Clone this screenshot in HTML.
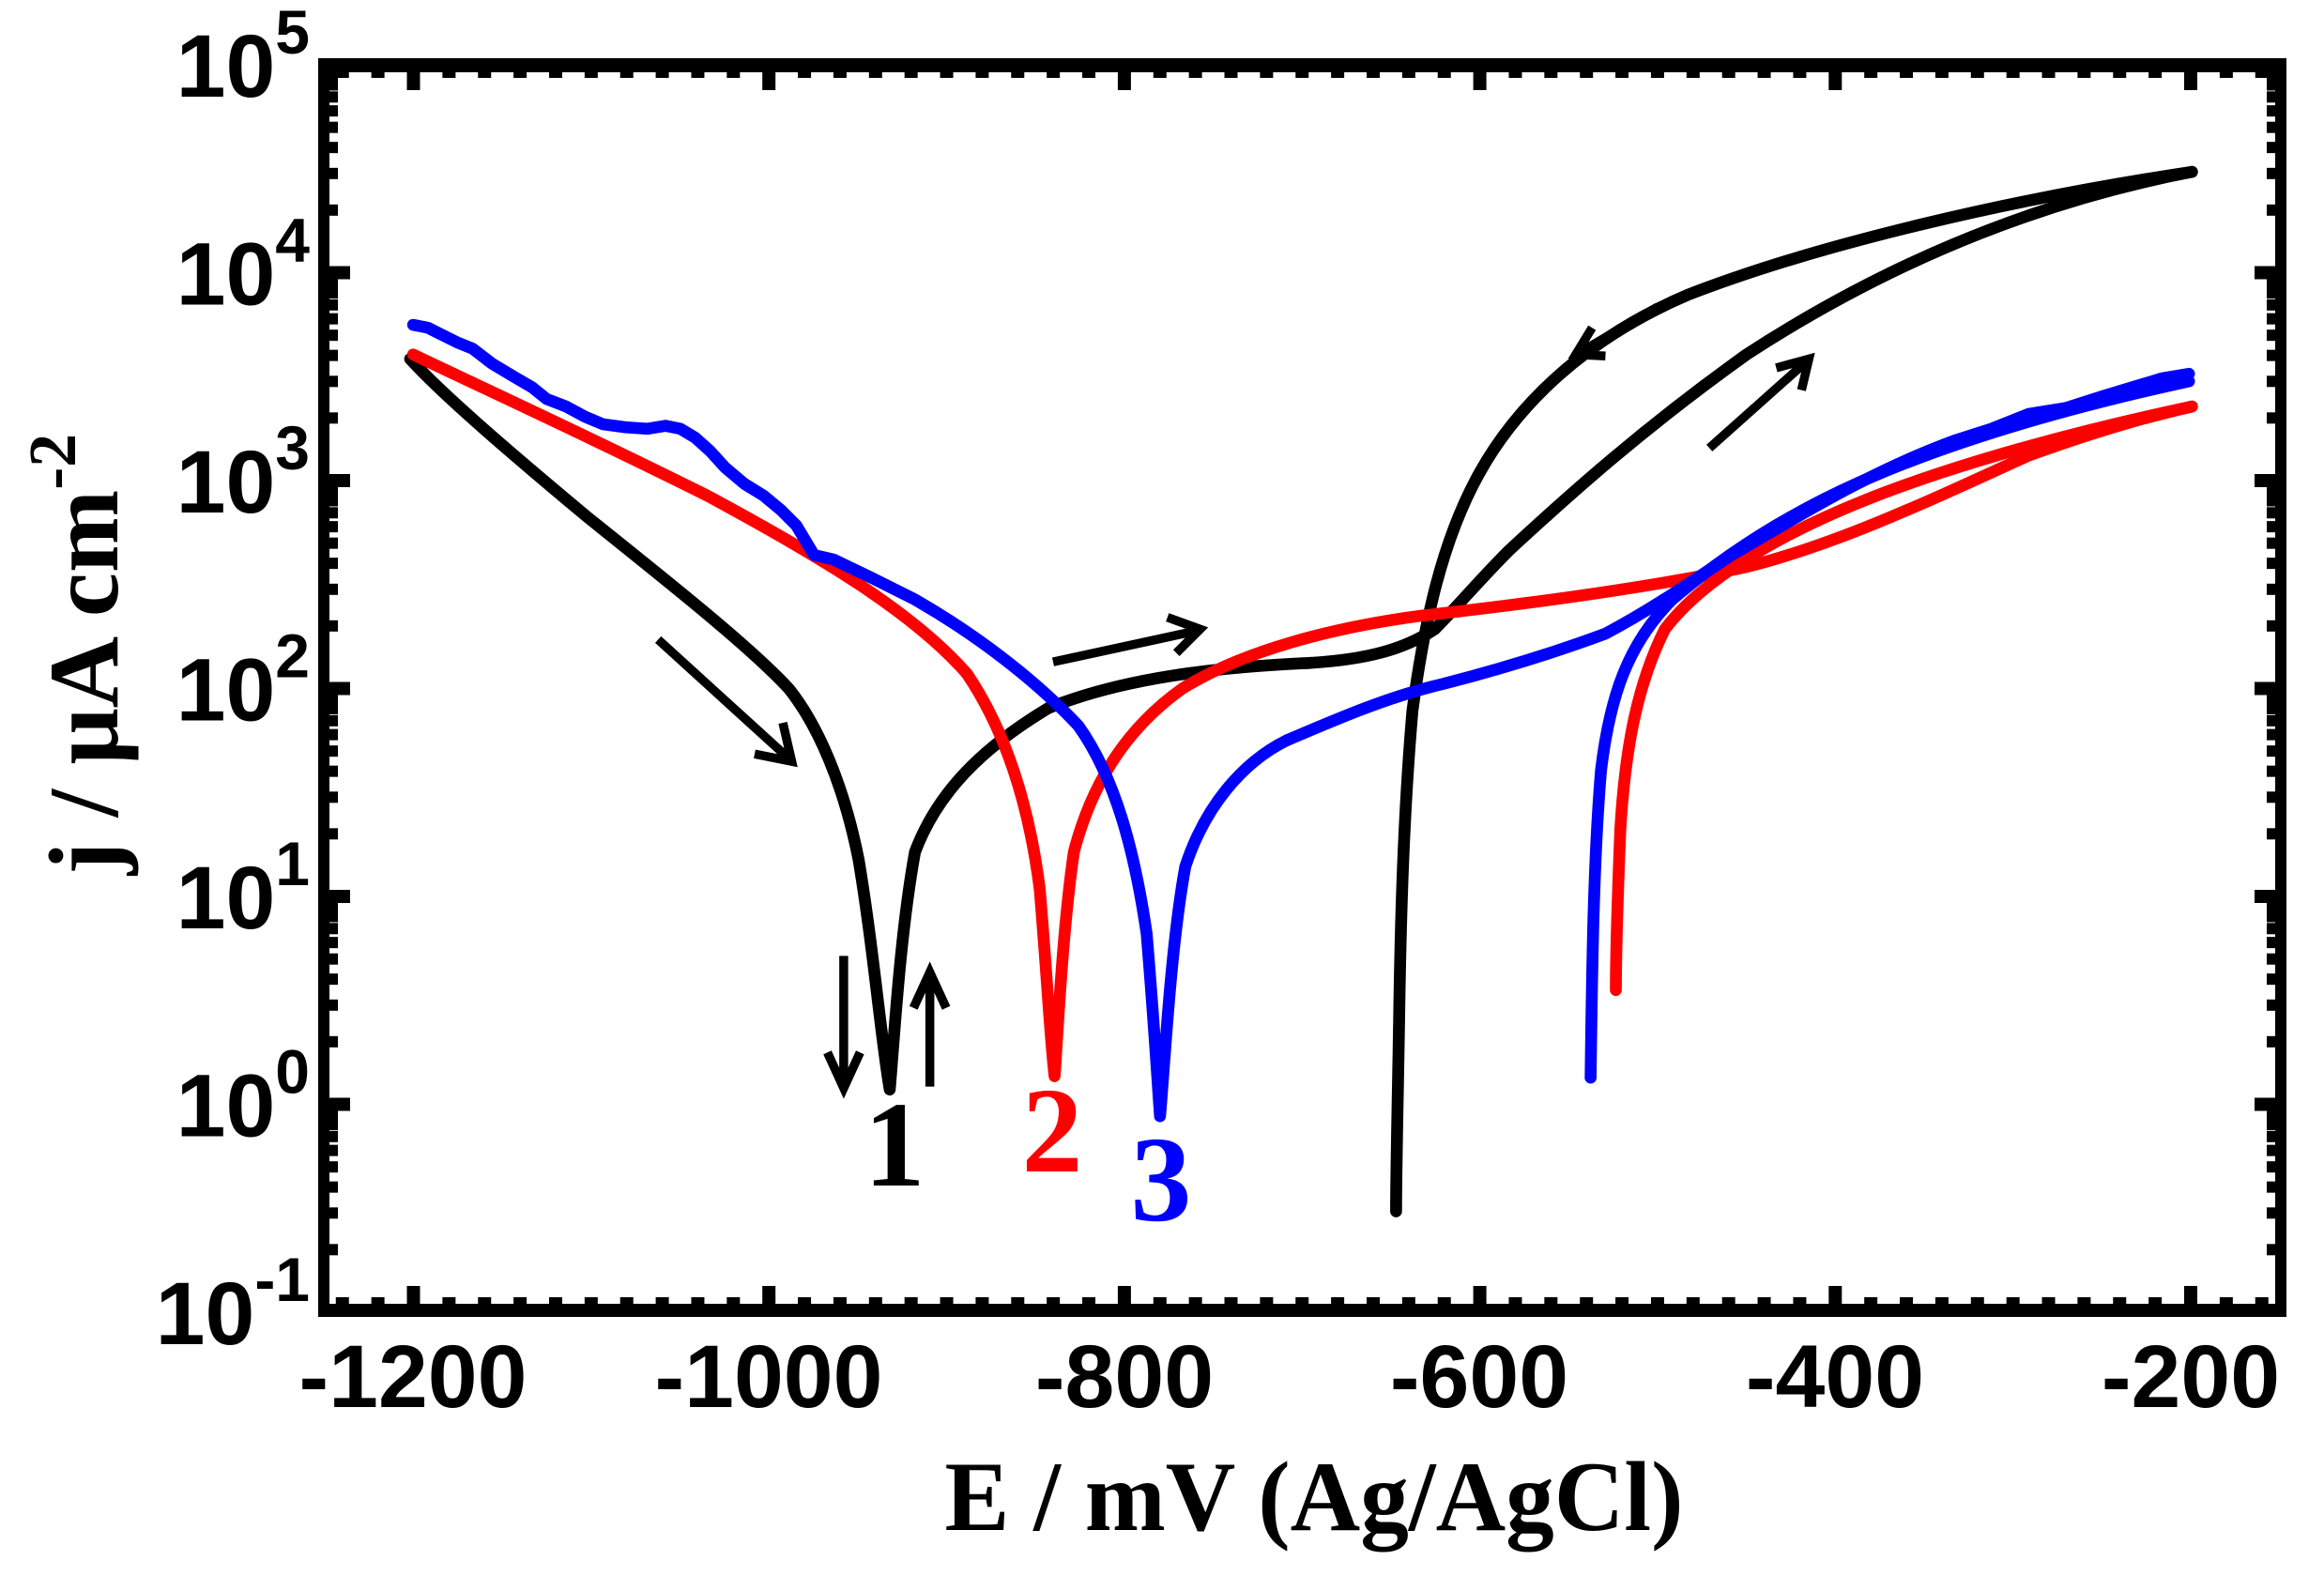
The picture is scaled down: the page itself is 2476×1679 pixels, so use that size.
<!DOCTYPE html>
<html><head><meta charset="utf-8"><style>
html,body{margin:0;padding:0;background:#fff;}
svg{display:block;}
</style></head><body>
<svg id="s" width="2476" height="1679" viewBox="0 0 2476 1679" xmlns="http://www.w3.org/2000/svg">
<rect width="2476" height="1679" fill="#fff"/>
<rect x="339" y="62" width="12" height="1341" fill="#000"/>
<rect x="339" y="62" width="2097" height="15" fill="#000"/>
<rect x="2424" y="62" width="12" height="1341" fill="#000"/>
<rect x="339" y="1389" width="2097" height="14" fill="#000"/>
<g id="ticks" fill="#000"></g>

<g font-family="Liberation Sans, Arial, sans-serif" font-weight="bold" font-size="95" text-anchor="middle" fill="#000">
<text x="440" y="1499">-1200</text>
<text x="819" y="1499">-1000</text>
<text x="1198" y="1499">-800</text>
<text x="1576" y="1499">-600</text>
<text x="1955" y="1499">-400</text>
<text x="2334" y="1499">-200</text>
</g>
<g font-family="Liberation Sans, Arial, sans-serif" font-weight="bold" fill="#000" text-anchor="end" id="ylab"></g>

<text x="1400" y="1630" font-family="Liberation Serif, Times New Roman, serif" font-weight="bold" font-size="106" text-anchor="middle" textLength="787" lengthAdjust="spacingAndGlyphs">E / mV (Ag/AgCl)</text>
<text transform="translate(125,697) rotate(-90)" font-family="Liberation Serif, Times New Roman, serif" font-weight="bold" font-size="106" text-anchor="middle">j / μA cm<tspan font-size="72" dy="-45">-2</tspan></text>

<g transform="translate(-6,-2) scale(1.582)" fill="none" stroke-linecap="round" stroke-linejoin="round" stroke-width="8">
<path stroke="#000" d="M280,243 C300,265 340,300 400,350 C460,398 510,438 535,465 C555,490 572,530 582,580 C592,640 597,700 603,735 C606,700 610,630 620,575 C635,535 665,505 710,478 C760,458 820,451 880,448 C925,446 950,438 970,425 C985,410 1000,392 1020,372 C1060,335 1110,290 1180,240 C1260,188 1360,140 1480,117"/>
<path stroke="#000" d="M1480,117 C1360,135 1230,165 1140,200 C1070,230 1025,275 1000,320 C975,365 963,420 955,480 C949,550 947,620 946,690 C945,750 944,790 944,817"/>
<path stroke="#f00" d="M282,240 C330,263 400,295 480,335 C560,378 620,415 655,455 C682,495 697,545 704,600 C709,660 711,700 714,726 C716,700 719,630 727,575 C740,525 765,490 800,465 C840,440 900,424 960,416 C1040,407 1120,396 1180,383 C1240,368 1300,340 1370,308 C1420,290 1450,282 1480,275"/>
<path stroke="#f00" d="M1480,275 C1400,292 1320,314 1260,338 C1200,362 1150,392 1125,425 C1105,465 1098,510 1095,560 C1093,610 1092,640 1092,668"/>
<path stroke="#00f" stroke-width="8" d="M282,220 L292,222 L300,226 L312,232 L322,236 L335,246 L350,255 L362,262 L372,270 L385,275 L398,282 L410,287 L425,289 L440,290 L452,288 L462,290 L472,296 L482,305 L492,316 L505,327 L518,335 L530,345 L540,355 L546,365 L552,375 L565,378 L590,390 L620,405 C660,428 700,458 730,490 C755,525 768,575 776,630 C781,690 783,725 785,753 C788,720 792,640 802,585 C815,545 840,515 870,500 C905,485 940,470 975,462 C1010,453 1050,441 1085,428 C1115,412 1140,395 1170,375 C1210,352 1260,320 1320,298 L1345,290 L1370,280 L1395,276 L1420,268 L1440,262 L1460,256 L1478,253"/>
<path stroke="#00f" d="M1478,258 C1400,275 1330,295 1270,320 C1210,345 1165,375 1130,405 C1100,435 1088,470 1082,520 C1077,580 1076,650 1075,727"/>
</g>
<g transform="translate(-6,-2) scale(1.582)" stroke="#000" stroke-width="6" fill="none" stroke-linecap="butt">
<path d="M447,432 L535,512 M512,509 L537,514 L531,488"/>
<path d="M713,447 L810,426 M790,417 L812,425 L796,441"/>
<path d="M572,645 L572,733 M561,710 L572,734 L583,710"/>
<path d="M630,733 L630,657 M619,680 L630,656 L641,680"/>
<path d="M1120,208 L1067,239 M1076,222 L1065,240 L1085,241"/>
<path d="M1155,303 L1220,245 M1200,249 L1222,243 L1217,264"/>
</g>
<g font-family="Liberation Serif, Times New Roman, serif" font-weight="bold" font-size="130" text-anchor="middle">
<text x="953" y="1263" fill="#000">1</text>
<text x="1121" y="1248" fill="#f00">2</text>
<text x="1237" y="1300" fill="#00f">3</text>
</g>
</svg>
<script>
(function(){
var NS="http://www.w3.org/2000/svg";
var g=document.getElementById('ticks');
function r(x,y,w,h){var e=document.createElementNS(NS,'rect');e.setAttribute('x',x);e.setAttribute('y',y);e.setAttribute('width',w);e.setAttribute('height',h);g.appendChild(e);}
function X(E){return 440.5+(E+1200)*1.8935;}
function Y(d){return 290.5+(4-d)*221.5;}
for(var E=-1260;E<=-160;E+=20){var x=X(E);if(x<351||x>2424)continue;var maj=(E%200===0);
 var L=maj?19:6;var w=14; r(x-w/2,77,w,L); r(x-w/2,1389-L-(maj?0:1),w,L+1);}
for(var d=-1;d<=4;d++){for(var m=1;m<=9;m++){var v=d+Math.log10(m);var y=Y(v);if(y<77||y>1389)continue;
 var maj=(m===1);var L=maj?22:9;var h=maj?14:12;
 r(351,y-h/2,L,h); r(2424-L,y-h/2,L,h);}}
r(351,Y(5)-7,22,14);
var yl=document.getElementById('ylab');
for(var d=-1;d<=5;d++){var t=document.createElementNS(NS,'text');var y=Y(d);
 t.setAttribute('x',330);t.setAttribute('y',y+34);t.setAttribute('font-size','95');
 var a=document.createElementNS(NS,'tspan');a.textContent='10';t.appendChild(a);
 var b=document.createElementNS(NS,'tspan');b.setAttribute('font-size','66');b.setAttribute('dy','-46');b.textContent=String(d);t.appendChild(b);
 yl.appendChild(t);}
})();
</script>
</body></html>
